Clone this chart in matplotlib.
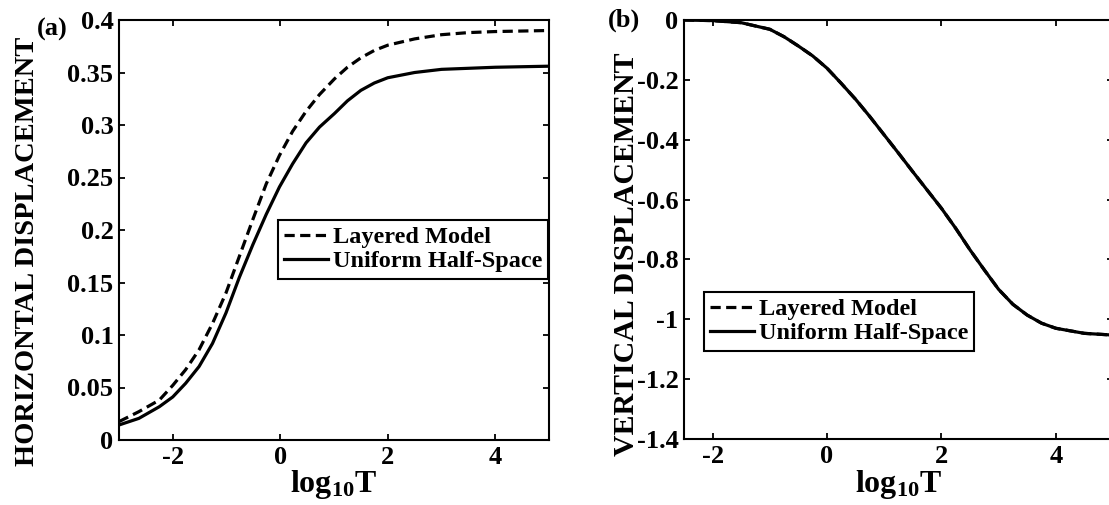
import matplotlib
matplotlib.use("Agg")
import matplotlib.pyplot as plt
from matplotlib.ticker import FuncFormatter

# panel (a): horizontal displacement vs log10 T
logt_a = [-3.0, -2.63, -2.25, -2.0, -1.76, -1.51, -1.26, -1.01, -0.76, -0.51, -0.26, -0.015,
          0.23, 0.48, 0.73, 1.01, 1.25, 1.5, 1.75, 2.0, 2.5, 3.0, 3.5, 4.0, 5.0]
horiz_layered = [0.0175, 0.027, 0.038, 0.052, 0.067, 0.086, 0.111, 0.140, 0.175, 0.210, 0.244, 0.271,
                 0.294, 0.313, 0.329, 0.344, 0.355, 0.364, 0.371, 0.376, 0.382, 0.386, 0.388, 0.389, 0.390]
horiz_uniform = [0.0143, 0.0206, 0.0317, 0.041, 0.054, 0.070, 0.092, 0.121, 0.155, 0.186, 0.215, 0.241,
                 0.263, 0.283, 0.298, 0.311, 0.323, 0.333, 0.340, 0.345, 0.350, 0.353, 0.354, 0.355, 0.356]

# panel (b): vertical displacement vs log10 T
logt_b = [-2.5, -2.0, -1.5, -1.0, -0.75, -0.5, -0.25, 0.0, 0.25, 0.5, 0.75, 1.0, 1.25, 1.5, 1.75,
          2.0, 2.25, 2.5, 2.75, 3.0, 3.25, 3.5, 3.75, 4.0, 4.5, 4.93, 5.0]
vert_uniform = [0.0, -0.002, -0.009, -0.031, -0.056, -0.087, -0.120, -0.161, -0.212, -0.265, -0.323,
                -0.384, -0.445, -0.507, -0.568, -0.629, -0.696, -0.768, -0.835, -0.900, -0.950,
                -0.986, -1.013, -1.030, -1.047, -1.052, -1.053]
vert_layered = [0.0, -0.002, -0.009, -0.031, -0.056, -0.087, -0.120, -0.161, -0.212, -0.265, -0.323,
                -0.384, -0.445, -0.507, -0.568, -0.629, -0.696, -0.768, -0.835, -0.900, -0.950,
                -0.986, -1.013, -1.030, -1.047, -1.052, -1.053]

xticks = [-2, 0, 2, 4]
yticks_a = [0, 0.05, 0.1, 0.15, 0.2, 0.25, 0.3, 0.35, 0.4]
yticks_b = [0, -0.2, -0.4, -0.6, -0.8, -1.0, -1.2, -1.4]

plt.rcParams['font.family'] = ['Liberation Serif', 'DejaVu Serif']
plt.rcParams['font.weight'] = 'bold'
plt.rcParams['mathtext.fontset'] = 'custom'
plt.rcParams['mathtext.rm'] = 'Liberation Serif:bold'
plt.rcParams['mathtext.bf'] = 'Liberation Serif:bold'
plt.rcParams['axes.unicode_minus'] = False

fig = plt.figure(figsize=(11.09, 5.05), dpi=100)
ax1 = fig.add_axes([119 / 1109, 65 / 505, 430 / 1109, 420 / 505])
ax2 = fig.add_axes([684 / 1109, 66 / 505, 429 / 1109, 419 / 505])

fmt = FuncFormatter(lambda v, p: '%g' % round(v, 4))


def style_axes(ax, xlim, ylim, yticks, ylabel, ylab_pos, xlab_y, ylab_size):
    ax.set_xlim(*xlim)
    ax.set_ylim(*ylim)
    ax.set_xticks(xticks)
    ax.set_yticks(yticks)
    ax.xaxis.set_major_formatter(fmt)
    ax.yaxis.set_major_formatter(fmt)
    ax.tick_params(direction='in', length=4, width=1.3, top=True, right=True,
                   labelsize=19, pad=4)
    for lab in ax.get_xticklabels() + ax.get_yticklabels():
        lab.set_fontweight('bold')
    for s in ax.spines.values():
        s.set_linewidth(1.5)
    ax.set_xlabel(r'$\mathbf{log_{10}T}$', fontsize=23)
    ax.xaxis.set_label_coords(0.5, xlab_y)
    ax.set_ylabel(ylabel, fontsize=ylab_size, fontweight='bold')
    ax.yaxis.set_label_coords(*ylab_pos)


def add_legend(ax, anchor, loc):
    leg = ax.legend(loc=loc, bbox_to_anchor=anchor, fancybox=False,
                    edgecolor='black', framealpha=1, fontsize=17.5, handlelength=1.8,
                    handletextpad=0.2, borderpad=0.25, labelspacing=0.1,
                    borderaxespad=0)
    leg.get_frame().set_linewidth(1.5)


ax1.plot(logt_a, horiz_layered, 'k--', lw=2.3, dashes=(3.2, 1.7), label='Layered Model')
ax1.plot(logt_a, horiz_uniform, 'k-', lw=2.3, label='Uniform Half-Space')
style_axes(ax1, (-3, 5), (0, 0.4), yticks_a, 'HORIZONTAL DISPLACEMENT', (-0.184, 0.448), -0.067, 20.5)
add_legend(ax1, (0.998, 0.524), 'upper right')

ax2.plot(logt_b, vert_layered, 'k--', lw=2.3, dashes=(3.2, 1.7), label='Layered Model')
ax2.plot(logt_b, vert_uniform, 'k-', lw=2.3, label='Uniform Half-Space')
style_axes(ax2, (-2.5, 5), (-1.4, 0), yticks_b, 'VERTICAL DISPLACEMENT', (-0.103, 0.44), -0.07, 21.5)
add_legend(ax2, (0.047, 0.351), 'upper left')

fig.text(52 / 1109, 1 - 29 / 505, '(a)', fontsize=19, fontweight='bold', ha='center', va='center')
fig.text(624 / 1109, 1 - 20 / 505, '(b)', fontsize=19, fontweight='bold', ha='center', va='center')

fig.savefig('out.png', dpi=100)
